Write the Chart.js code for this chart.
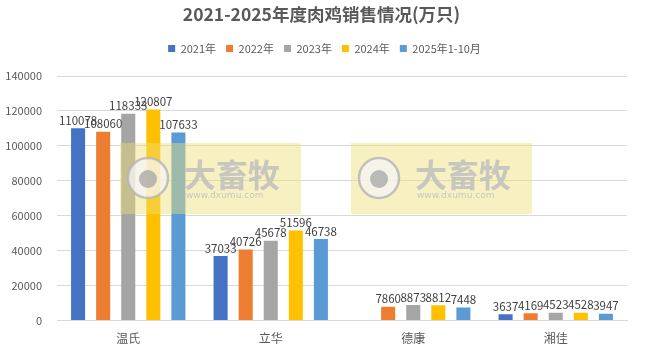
<!DOCTYPE html>
<html>
<head>
<meta charset="utf-8">
<script src="https://cdn.jsdelivr.net/npm/chart.js@4"></script>
<style>
  html, body { margin: 0; padding: 0; background: #fff; }
  #wrap { width: 646px; height: 349px; position: relative; }
</style>
</head>
<body>
<div id="wrap"><canvas id="salesChart"></canvas></div>
<script>
// 数据
const companies = ['温氏', '立华', '德康', '湘佳'];
const seriesNames = ['2021年', '2022年', '2023年', '2024年', '2025年1-10月'];
const sales2021 = [110078, 37033, null, 3637];
const sales2022 = [108060, 40726, 7860, 4169];
const sales2023 = [118333, 45678, 8873, 4523];
const sales2024 = [120807, 51596, 8812, 4528];
const sales2025 = [107633, 46738, 7448, 3947];
const yTicks = [0, 20000, 40000, 60000, 80000, 100000, 120000, 140000];

const colors = ['#4472C4', '#ED7D31', '#A5A5A5', '#FFC000', '#5B9BD5'];
const FONT = '"Noto Sans CJK SC", "Noto Sans", sans-serif';

Chart.defaults.font.family = FONT;
Chart.defaults.color = '#595959';

// 图例和绘图区之间多留一点空, 标题和图例整体略右移
const headerTweak = {
    id: 'headerTweak',
    beforeInit(chart) {
        const fit = chart.legend.fit;
        chart.legend.fit = function () {
            fit.bind(chart.legend)();
            this.height += 12;
        };
    },
    afterLayout(chart) {
        chart.titleBlock.left += 5;
        chart.titleBlock.right += 5;
        chart.legend.left += 8;
        chart.legend.right += 8;
    }
};

// 柱顶数值标签
const barLabels = {
    id: 'barLabels',
    afterDatasetsDraw(chart) {
        const ctx = chart.ctx;
        ctx.save();
        ctx.font = '11.5px ' + FONT;
        ctx.fillStyle = '#404040';
        ctx.textAlign = 'center';
        ctx.textBaseline = 'bottom';
        chart.data.datasets.forEach((ds, i) => {
            chart.getDatasetMeta(i).data.forEach((bar, j) => {
                const v = ds.data[j];
                if (v == null) return;
                ctx.fillText(String(v), bar.x, bar.y - 2);
            });
        });
        ctx.restore();
    }
};

// 水印 (大畜牧)
const watermark = {
    id: 'watermark',
    afterDraw(chart) {
        const ctx = chart.ctx;
        [120, 351].forEach(x0 => {
            const y0 = 143;
            ctx.save();
            ctx.fillStyle = 'rgba(238, 224, 120, 0.45)';
            ctx.fillRect(x0, y0, 181, 71);
            // 圆形标志
            ctx.beginPath();
            ctx.arc(x0 + 28, y0 + 35, 20, 0, Math.PI * 2);
            ctx.fillStyle = 'rgba(245, 245, 245, 0.75)';
            ctx.fill();
            ctx.lineWidth = 2.5;
            ctx.strokeStyle = 'rgba(180, 180, 180, 0.8)';
            ctx.stroke();
            ctx.beginPath();
            ctx.arc(x0 + 28, y0 + 36, 9, 0, Math.PI * 2);
            ctx.fillStyle = 'rgba(170, 170, 170, 0.8)';
            ctx.fill();
            // 文字
            ctx.fillStyle = 'rgba(190, 190, 190, 0.85)';
            ctx.textAlign = 'left';
            ctx.textBaseline = 'middle';
            ctx.font = 'bold 32px "Noto Sans CJK SC", sans-serif';
            ctx.fillText('大畜牧', x0 + 64, y0 + 32);
            ctx.font = '9px "DejaVu Sans", sans-serif';
            ctx.fillText('www.dxumu.com', x0 + 66, y0 + 53);
            ctx.restore();
        });
    }
};

const seriesData = [sales2021, sales2022, sales2023, sales2024, sales2025];

new Chart(document.getElementById('salesChart'), {
    type: 'bar',
    data: {
        labels: companies,
        datasets: seriesNames.map((name, i) => ({
            label: name,
            data: seriesData[i],
            backgroundColor: colors[i],
            borderWidth: 0,
            categoryPercentage: 0.88,
            barPercentage: 0.56
        }))
    },
    options: {
        responsive: true,
        maintainAspectRatio: false,
        animation: false,
        layout: { padding: { left: 6, right: 19, top: 4, bottom: 0 } },
        plugins: {
            title: {
                display: true,
                text: '2021-2025年度肉鸡销售情况(万只)',
                color: '#595959',
                font: { size: 17.5, weight: 'bold', family: '"Noto Sans CJK SC", sans-serif' },
                padding: { top: 0, bottom: 8 }
            },
            legend: {
                position: 'top',
                labels: {
                    boxWidth: 7,
                    boxHeight: 7,
                    padding: 10,
                    color: '#595959',
                    font: { size: 11 }
                }
            },
            tooltip: { enabled: false }
        },
        scales: {
            x: {
                grid: { display: false },
                border: { color: '#d9d9d9' },
                ticks: { color: '#595959', font: { size: 12 }, padding: 3 }
            },
            y: {
                min: 0,
                max: yTicks[yTicks.length - 1],
                afterBuildTicks(axis) {
                    axis.ticks = yTicks.map(v => ({ value: v }));
                },
                afterFit(axis) {
                    axis.width = 51;
                },
                grid: { color: '#d9d9d9', drawTicks: false },
                border: { display: false },
                ticks: {
                    color: '#595959',
                    font: { size: 11 },
                    padding: 15,
                    callback: v => String(v)
                }
            }
        }
    },
    plugins: [headerTweak, barLabels, watermark]
});
</script>
</body>
</html>
